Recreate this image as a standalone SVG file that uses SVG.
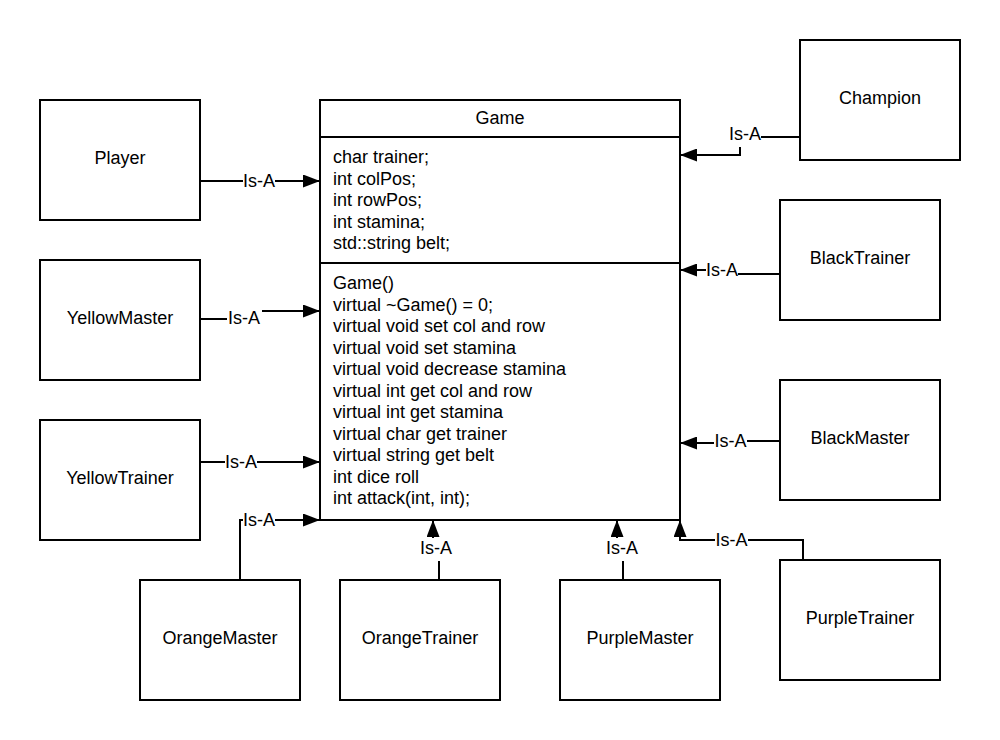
<svg xmlns="http://www.w3.org/2000/svg" width="1000" height="740" viewBox="0 0 1000 740">
<style>
text{font-family:"Liberation Sans",Arial,sans-serif;font-size:18px;fill:#000}
.box{fill:#fff;stroke:#000;stroke-width:2}
.c{text-anchor:middle}
.ln{fill:none;stroke:#000;stroke-width:2}
.bg{fill:#fff}
</style>
<defs>
<marker id="arr" markerUnits="userSpaceOnUse" markerWidth="18" markerHeight="13" refX="17" refY="6.5" orient="auto">
<path d="M0,0 L17,6.5 L0,13 z" fill="#000"/>
</marker>
</defs>
<rect width="1000" height="740" fill="#fff"/>
<g id="connectors">
<path class="ln" d="M200,181 L320,181" marker-end="url(#arr)"/>
<path class="ln" d="M200,319 L250,319 L250,311 L320,311" marker-end="url(#arr)"/>
<path class="ln" d="M200,462 L320,462" marker-end="url(#arr)"/>
<path class="ln" d="M240,580 L240,520 L320,520" marker-end="url(#arr)"/>
<path class="ln" d="M439,580 L439,550 L433,550 L433,520" marker-end="url(#arr)"/>
<path class="ln" d="M623,580 L623,550 L617,550 L617,520" marker-end="url(#arr)"/>
<path class="ln" d="M803,560 L803,540 L680,540 L680,520" marker-end="url(#arr)"/>
<path class="ln" d="M780,441 L730,441 L730,443 L680,443" marker-end="url(#arr)"/>
<path class="ln" d="M780,274 L730,274 L730,270 L680,270" marker-end="url(#arr)"/>
<path class="ln" d="M800,137 L740,137 L740,155 L680,155" marker-end="url(#arr)"/>
<g id="labels">
<rect class="bg" x="243" y="171" width="32" height="20"/><text class="c" x="259" y="187.4">Is-A</text>
<rect class="bg" x="227" y="308" width="35" height="20"/><text class="c" x="244" y="324.4">Is-A</text>
<rect class="bg" x="225" y="452" width="32" height="20"/><text class="c" x="241" y="468.4">Is-A</text>
<rect class="bg" x="243" y="510" width="32" height="20"/><text class="c" x="259" y="526.4">Is-A</text>
<rect class="bg" x="419" y="538" width="34" height="23"/><text class="c" x="436" y="554.4">Is-A</text>
<rect class="bg" x="605" y="538" width="34" height="23"/><text class="c" x="622" y="554.4">Is-A</text>
<rect class="bg" x="715" y="530" width="33" height="20"/><text class="c" x="731.5" y="546.4">Is-A</text>
<rect class="bg" x="714" y="431" width="33" height="20"/><text class="c" x="730.5" y="447.4">Is-A</text>
<rect class="bg" x="706" y="260" width="32" height="20"/><text class="c" x="722" y="276.4">Is-A</text>
<rect class="bg" x="729" y="124" width="32" height="23"/><text class="c" x="745" y="140.4">Is-A</text>
</g>
</g>
<g id="game">
<rect class="box" x="320" y="100" width="360" height="420"/>
<line class="ln" x1="320" y1="137" x2="680" y2="137"/>
<line class="ln" x1="320" y1="263" x2="680" y2="263"/>
<text class="c" x="500" y="123.5">Game</text>
<text x="333" y="163">char trainer;</text>
<text x="333" y="184.5">int colPos;</text>
<text x="333" y="206">int rowPos;</text>
<text x="333" y="227.5">int stamina;</text>
<text x="333" y="249">std::string belt;</text>
<text x="333" y="289">Game()</text>
<text x="333" y="310.5">virtual ~Game() = 0;</text>
<text x="333" y="332">virtual void set col and row</text>
<text x="333" y="353.5">virtual void set stamina</text>
<text x="333" y="375">virtual void decrease stamina</text>
<text x="333" y="396.5">virtual int get col and row</text>
<text x="333" y="418">virtual int get stamina</text>
<text x="333" y="439.5">virtual char get trainer</text>
<text x="333" y="461">virtual string get belt</text>
<text x="333" y="482.5">int dice roll</text>
<text x="333" y="504">int attack(int, int);</text>
</g>
<g id="player"><rect class="box" x="40" y="100" width="160" height="120"/><text class="c" x="120" y="164">Player</text></g>
<g id="yellowmaster"><rect class="box" x="40" y="260" width="160" height="120"/><text class="c" x="120" y="324">YellowMaster</text></g>
<g id="yellowtrainer"><rect class="box" x="40" y="420" width="160" height="120"/><text class="c" x="120" y="484">YellowTrainer</text></g>
<g id="orangemaster"><rect class="box" x="140" y="580" width="160" height="120"/><text class="c" x="220" y="644">OrangeMaster</text></g>
<g id="orangetrainer"><rect class="box" x="340" y="580" width="160" height="120"/><text class="c" x="420" y="644">OrangeTrainer</text></g>
<g id="purplemaster"><rect class="box" x="560" y="580" width="160" height="120"/><text class="c" x="640" y="644">PurpleMaster</text></g>
<g id="purpletrainer"><rect class="box" x="780" y="560" width="160" height="120"/><text class="c" x="860" y="624">PurpleTrainer</text></g>
<g id="blackmaster"><rect class="box" x="780" y="380" width="160" height="120"/><text class="c" x="860" y="444">BlackMaster</text></g>
<g id="blacktrainer"><rect class="box" x="780" y="200" width="160" height="120"/><text class="c" x="860" y="264">BlackTrainer</text></g>
<g id="champion"><rect class="box" x="800" y="40" width="160" height="120"/><text class="c" x="880" y="104">Champion</text></g>
</svg>
